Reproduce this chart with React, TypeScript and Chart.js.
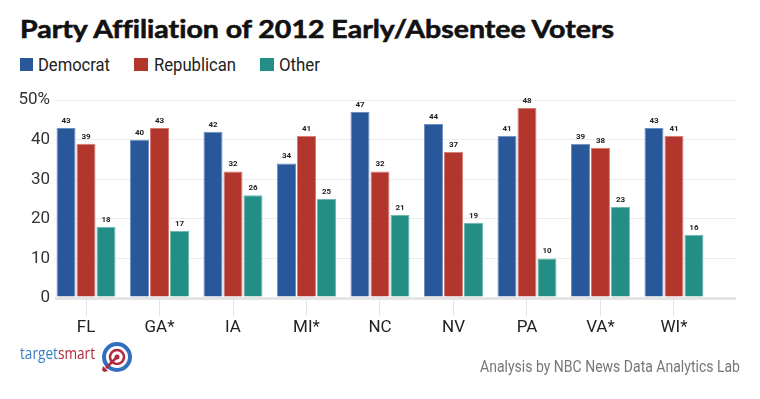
import React, { useEffect, useRef } from "react";
import { Chart, registerables } from "chart.js";

Chart.register(...registerables);

const states = ["FL", "GA*", "IA", "MI*", "NC", "NV", "PA", "VA*", "WI*"];
const democrat = [43, 40, 42, 34, 47, 44, 41, 39, 43];
const republican = [39, 43, 32, 41, 32, 37, 48, 38, 41];
const other = [18, 17, 26, 25, 21, 19, 10, 23, 16];
const yTicks = [0, 10, 20, 30, 40, 50];

const BLUE = "#29589a";
const RED = "#b3362d";
const TEAL = "#238e86";

const valueLabels = {
  id: "valueLabels",
  afterDatasetsDraw(chart: any) {
    const ctx = chart.ctx;
    ctx.save();
    ctx.font = "bold 8px Roboto, sans-serif";
    ctx.fillStyle = "#222";
    ctx.textAlign = "center";
    ctx.textBaseline = "bottom";
    chart.data.datasets.forEach((ds: any, i: number) => {
      const meta = chart.getDatasetMeta(i);
      meta.data.forEach((el: any, j: number) => {
        ctx.fillText(String(ds.data[j].y), el.x, el.y - 3);
      });
    });
    ctx.restore();
  },
};

export default function App() {
  const ref = useRef<HTMLCanvasElement | null>(null);

  useEffect(() => {
    if (!ref.current) return;
    const mk = (arr: number[]) => arr.map((v, i) => ({ x: i + 1, y: v }));
    const chart = new Chart(ref.current, {
      type: "bar",
      data: {
        datasets: [
          { label: "Democrat", data: mk(democrat), backgroundColor: BLUE, borderColor: "#6f8fc2", borderWidth: 1 },
          { label: "Republican", data: mk(republican), backgroundColor: RED, borderColor: "#d57a72", borderWidth: 1 },
          { label: "Other", data: mk(other), backgroundColor: TEAL, borderColor: "#6cb7b0", borderWidth: 1 },
        ] as any,
      },
      options: {
        animation: false,
        responsive: false,
        maintainAspectRatio: false,
        layout: { padding: { left: 0, right: 24, top: 14, bottom: 0 } },
        plugins: { legend: { display: false }, tooltip: { enabled: false }, title: { display: false } },
        datasets: { bar: { barPercentage: 0.95, categoryPercentage: 0.816 } } as any,
        scales: {
          x: {
            type: "linear",
            offset: false,
            min: 0.578,
            max: 9.844,
            afterFit: (s: any) => { s.height = 47; },
            grid: { display: true, offset: false, drawOnChartArea: false, drawTicks: true, tickLength: 18, color: "#e2e2e2" },
            border: { display: false },
            ticks: {
              stepSize: 1,
              includeBounds: false,
              autoSkip: false,
              maxRotation: 0,
              padding: 2,
              color: "#222",
              font: { family: "Roboto", size: 17 },
              callback: (v: any) => {
                const n = Number(v);
                return Number.isInteger(n) && n >= 1 && n <= states.length ? states[n - 1] : "";
              },
            },
          },
          y: {
            min: yTicks[0],
            max: yTicks[yTicks.length - 1],
            afterFit: (s: any) => { s.width = 55; },
            afterBuildTicks: (s: any) => { s.ticks = yTicks.map((v) => ({ value: v })); },
            grid: {
              color: (c: any) => (c.tick && c.tick.value === 0 ? "#e4e4e4" : "#ececec"),
              lineWidth: (c: any) => (c.tick && c.tick.value === 0 ? 3 : 1),
              drawTicks: false,
            },
            border: { display: false },
            ticks: {
              padding: 5,
              color: "#333",
              font: { family: "Roboto", size: 17 },
              callback: (v: any) => (Number(v) === 50 ? "50%" : String(v)),
            },
          },
        },
      } as any,
      plugins: [valueLabels],
    });
    return () => chart.destroy();
  }, []);

  return (
    <div style={{ position: "absolute", left: 0, top: 0, width: 760, height: 399, background: "#fff", overflow: "hidden" }}>
      <svg width={760} height={85} style={{ position: "absolute", left: 0, top: 0 }}>
        <text x={20} y={38} textLength={594} lengthAdjust="spacingAndGlyphs"
          style={{ font: "bold 25px Lato, sans-serif", fill: "#111", stroke: "#111", strokeWidth: 0.6, fontVariantLigatures: "none" }}>
          Party Affiliation of 2012 Early/Absentee Voters
        </text>
        <rect x={20} y={58} width={13} height={13} fill={BLUE} />
        <text x={38} y={71} textLength={72} lengthAdjust="spacingAndGlyphs" style={{ font: "18px Roboto, sans-serif", fill: "#222" }}>Democrat</text>
        <rect x={134} y={58} width={14} height={13} fill={RED} />
        <text x={154} y={71} textLength={82} lengthAdjust="spacingAndGlyphs" style={{ font: "18px Roboto, sans-serif", fill: "#222" }}>Republican</text>
        <rect x={260} y={58} width={14} height={13} fill={TEAL} />
        <text x={279} y={71} textLength={41} lengthAdjust="spacingAndGlyphs" style={{ font: "18px Roboto, sans-serif", fill: "#222" }}>Other</text>
      </svg>
      <canvas ref={ref} width={760} height={260} style={{ position: "absolute", left: 0, top: 85, width: 760, height: 260 }} />
      <svg width={760} height={60} style={{ position: "absolute", left: 0, top: 335 }}>
        <text x={20} y={24} textLength={75} lengthAdjust="spacingAndGlyphs" style={{ font: "16px 'Open Sans', sans-serif" }}>
          <tspan fill="#3b7dc4">target</tspan><tspan fill="#b0283c">smart</tspan>
        </text>
        <circle cx={117} cy={22} r={13} fill="none" stroke="#2f6fbd" strokeWidth={4} />
        <circle cx={117} cy={22} r={7} fill="none" stroke="#b0283c" strokeWidth={2.5} />
        <circle cx={117} cy={22} r={2.5} fill="#b0283c" />
        <line x1={117} y1={22} x2={106} y2={33} stroke="#b0283c" strokeWidth={2.5} />
        <polygon points="103,31 108,36 104,37 102,35" fill="#b0283c" />
        <text x={740} y={37} textAnchor="end" textLength={260} lengthAdjust="spacingAndGlyphs"
          style={{ font: "17px Roboto, sans-serif", fill: "#777" }}>
          Analysis by NBC News Data Analytics Lab
        </text>
      </svg>
    </div>
  );
}
